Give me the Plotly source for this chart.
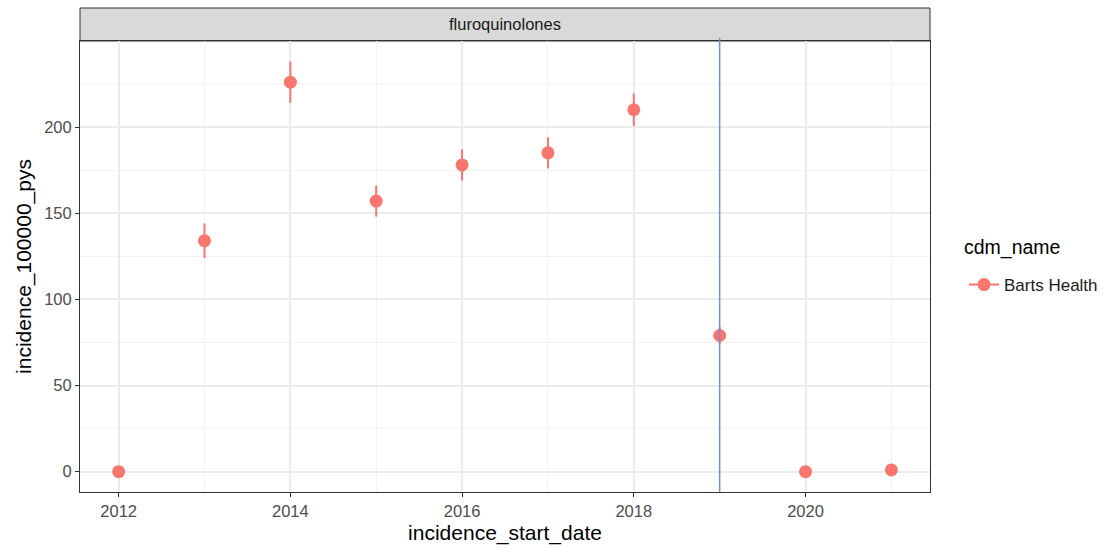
import plotly.graph_objects as go

years = [2012, 2013, 2014, 2015, 2016, 2017, 2018, 2019, 2020, 2021]
incidence = [0, 134, 226, 157, 178, 185, 210, 79, 0, 1]
err_hi = [0, 10, 12, 9, 9, 9, 9.5, 5, 0, 0]
err_lo = [0, 10, 12, 9, 9, 9, 9.5, 5, 0, 0]
series_name = "Barts Health"
legend_title = "cdm_name"
facet_label = "fluroquinolones"
vline_year = 2019

red = "#F8766D"
font = "Liberation Sans, Arial, sans-serif"

fig = go.Figure()
fig.add_trace(go.Scatter(
    x=years, y=incidence, mode="markers",
    marker=dict(color=red, size=13),
    error_y=dict(type="data", symmetric=False, array=err_hi, arrayminus=err_lo,
                 color=red, thickness=2, width=0),
    showlegend=False, name=series_name,
))
fig.add_trace(go.Scatter(
    x=[None], y=[None], mode="lines+markers",
    marker=dict(color=red, size=13), line=dict(color=red, width=2),
    name=series_name, showlegend=True,
))

fig.add_shape(type="line", xref="x", yref="paper", x0=vline_year, x1=vline_year,
              y0=0, y1=1.007, line=dict(color="#6F8FD6", width=1.5))

# facet strip
fig.add_shape(type="rect", xref="paper", yref="paper", x0=0, x1=1,
              y0=1.0, y1=1 + 33 / 451, fillcolor="#D9D9D9",
              line=dict(color="#333333", width=1), layer="below")
fig.add_annotation(text=facet_label, xref="paper", yref="paper", x=0.5,
                   y=1 + 16.5 / 451, yanchor="middle", showarrow=False,
                   font=dict(family=font, size=16.5, color="#1A1A1A"))

# legend title
fig.add_annotation(text=legend_title, xref="paper", yref="paper",
                   x=(962 - 80) / 850, xanchor="left",
                   y=(492 - 247) / 451, yanchor="middle", showarrow=False,
                   font=dict(family=font, size=19.5, color="black"))

grid = "#EBEBEB"
fig.update_layout(
    width=1107, height=549,
    margin=dict(l=80, r=177, t=41, b=57, autoexpand=False),
    paper_bgcolor="white", plot_bgcolor="white",
    font=dict(family=font),
    xaxis=dict(
        range=[2011.55, 2021.45], tickvals=[2012, 2014, 2016, 2018, 2020],
        ticktext=["2012", "2014", "2016", "2018", "2020"],
        showgrid=True, gridcolor=grid, gridwidth=1.5,
        minor=dict(tickvals=[2013, 2015, 2017, 2019, 2021], showgrid=True,
                   gridcolor="#F2F2F2", gridwidth=1, ticks=""),
        ticks="outside", ticklen=4, tickcolor="#333333", tickwidth=1,
        tickfont=dict(size=16.5, color="#4D4D4D"),
        showline=True, linecolor="#333333", linewidth=1, mirror=True,
        zeroline=False,
        title=dict(text="incidence_start_date", font=dict(size=21, color="black"), standoff=6),
    ),
    yaxis=dict(
        range=[-11.8, 249.9], tickvals=[0, 50, 100, 150, 200],
        showgrid=True, gridcolor=grid, gridwidth=1.5,
        minor=dict(tickvals=[25, 75, 125, 175, 225], showgrid=True,
                   gridcolor="#F2F2F2", gridwidth=1, ticks=""),
        ticks="outside", ticklen=4, tickcolor="#333333", tickwidth=1,
        tickfont=dict(size=16.5, color="#4D4D4D"),
        showline=True, linecolor="#333333", linewidth=1, mirror=True,
        zeroline=False,
        title=dict(text="incidence_100000_pys", font=dict(size=21, color="black"), standoff=6),
    ),
    legend=dict(
        x=(964 - 80) / 850, xanchor="left", y=(492 - 285) / 451, yanchor="middle",
        font=dict(size=17, color="#1A1A1A"),
        bgcolor="rgba(0,0,0,0)",
    ),
)

fig.write_html("out.html")
